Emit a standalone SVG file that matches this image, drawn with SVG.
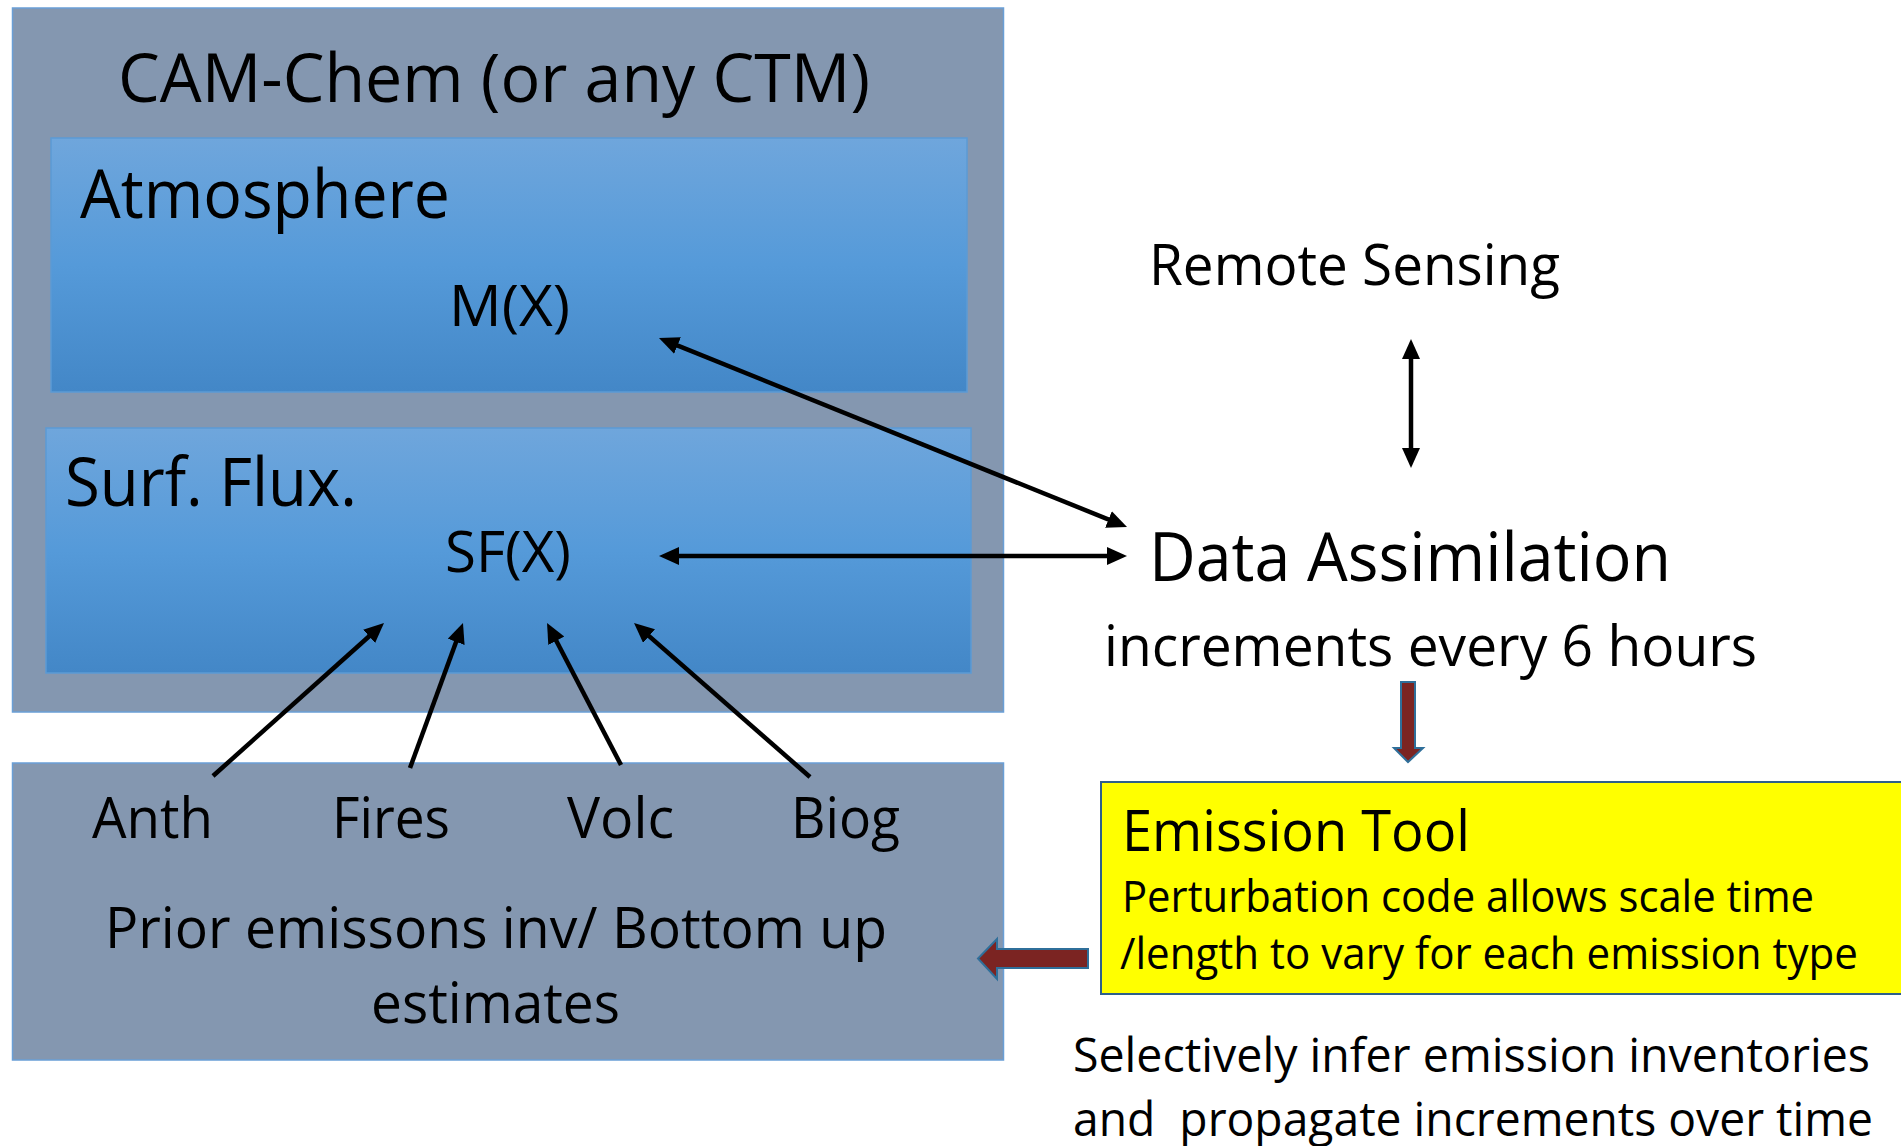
<svg xmlns="http://www.w3.org/2000/svg" width="1901" height="1146" viewBox="0 0 1901 1146">
<defs>
<style>
text{font-family:"Open Sans","Noto Sans","Liberation Sans",sans-serif;fill:#000;white-space:pre}
.big{font-size:67px}
.mid{font-size:56px}
.sm{font-size:48px}
.xs{font-size:43px}
.gray{fill:#8497b0;stroke:#6a9fd6;stroke-width:1.5}
.inner{fill:url(#blueGrad);stroke:#5b9bd5;stroke-width:1.5}
.conn{stroke:#000;stroke-width:4.5;fill:none}
.block{fill:#7b2422;stroke:#2f6f9a;stroke-width:2}
</style>
<linearGradient id="blueGrad" x1="0" y1="0" x2="0" y2="1">
<stop offset="0" stop-color="#6fa6dc"/>
<stop offset="0.5" stop-color="#559ad9"/>
<stop offset="1" stop-color="#4387c7"/>
</linearGradient>
<marker id="ah" markerUnits="userSpaceOnUse" markerWidth="22" markerHeight="20" viewBox="0 0 22 20" refX="11" refY="9" orient="auto-start-reverse">
<path d="M0,0 L20,9 L0,18 Z" fill="#000"/>
</marker>
</defs>

<g id="cam-chem">
<rect class="gray" x="12.5" y="8" width="991" height="704"/>
<text class="big" x="118" y="102" textLength="752" lengthAdjust="spacingAndGlyphs">CAM-Chem (or any CTM)</text>
</g>

<g id="atmosphere">
<rect class="inner" x="51" y="138" width="916" height="254"/>
<text class="big" x="80" y="218" textLength="370" lengthAdjust="spacingAndGlyphs">Atmosphere</text>
<text class="mid" x="449" y="326" textLength="121" lengthAdjust="spacingAndGlyphs">M(X)</text>
</g>

<g id="surf-flux">
<rect class="inner" x="46" y="428" width="925" height="245"/>
<text class="big" x="65" y="506" textLength="292" lengthAdjust="spacingAndGlyphs">Surf. Flux.</text>
<text class="mid" x="445" y="572" textLength="126" lengthAdjust="spacingAndGlyphs">SF(X)</text>
</g>

<g id="prior-emissions">
<rect class="gray" x="12.5" y="763" width="991" height="297"/>
<text class="mid" x="92" y="838" textLength="121" lengthAdjust="spacingAndGlyphs">Anth</text>
<text class="mid" x="332" y="838" textLength="118" lengthAdjust="spacingAndGlyphs">Fires</text>
<text class="mid" x="567" y="838" textLength="107" lengthAdjust="spacingAndGlyphs">Volc</text>
<text class="mid" x="791" y="838" textLength="109" lengthAdjust="spacingAndGlyphs">Biog</text>
<text class="mid" x="105" y="948" textLength="782" lengthAdjust="spacingAndGlyphs">Prior emissons inv/ Bottom up</text>
<text class="mid" x="371" y="1023" textLength="249" lengthAdjust="spacingAndGlyphs">estimates</text>
</g>

<g id="remote-sensing">
<text class="mid" x="1149" y="285" textLength="411" lengthAdjust="spacingAndGlyphs">Remote Sensing</text>
</g>

<g id="data-assimilation">
<text class="big" x="1149" y="581" textLength="522" lengthAdjust="spacingAndGlyphs">Data Assimilation</text>
<text class="mid" x="1104" y="666" textLength="653" lengthAdjust="spacingAndGlyphs">increments every 6 hours</text>
</g>

<g id="emission-tool">
<rect x="1101" y="782" width="820" height="212" fill="#ffff00" stroke="#2e5f8a" stroke-width="2"/>
<text class="mid" x="1122" y="851" textLength="348" lengthAdjust="spacingAndGlyphs">Emission Tool</text>
<text class="xs" x="1122" y="912" textLength="692" lengthAdjust="spacingAndGlyphs">Perturbation code allows scale time</text>
<text class="xs" x="1120" y="969" textLength="738" lengthAdjust="spacingAndGlyphs">/length to vary for each emission type</text>
</g>

<g id="note">
<text class="sm" x="1073" y="1072" textLength="797" lengthAdjust="spacingAndGlyphs">Selectively infer emission inventories</text>
<text class="sm" x="1073" y="1136" textLength="800" lengthAdjust="spacingAndGlyphs">and  propagate increments over time</text>
</g>

<g id="connectors">
<line class="conn" x1="667.3" y1="341.4" x2="1118.7" y2="523.6" marker-start="url(#ah)" marker-end="url(#ah)"/>
<line class="conn" x1="668" y1="556" x2="1118" y2="556" marker-start="url(#ah)" marker-end="url(#ah)"/>
<line class="conn" x1="1411" y1="348" x2="1411" y2="459" marker-start="url(#ah)" marker-end="url(#ah)"/>
<line class="conn" x1="213" y1="776" x2="377.3" y2="629" marker-end="url(#ah)"/>
<line class="conn" x1="410" y1="768" x2="459.9" y2="631.5" marker-end="url(#ah)"/>
<line class="conn" x1="621" y1="765" x2="551.2" y2="631" marker-end="url(#ah)"/>
<line class="conn" x1="810" y1="777" x2="640.8" y2="628.9" marker-end="url(#ah)"/>
<path class="block" d="M1401,682 H1415 V748 H1423 L1408,762 L1394,748 H1401 Z"/>
<path class="block" d="M1088,949 V968 H997 V979 L978,958.5 L997,939 V949 Z"/>
</g>
</svg>
